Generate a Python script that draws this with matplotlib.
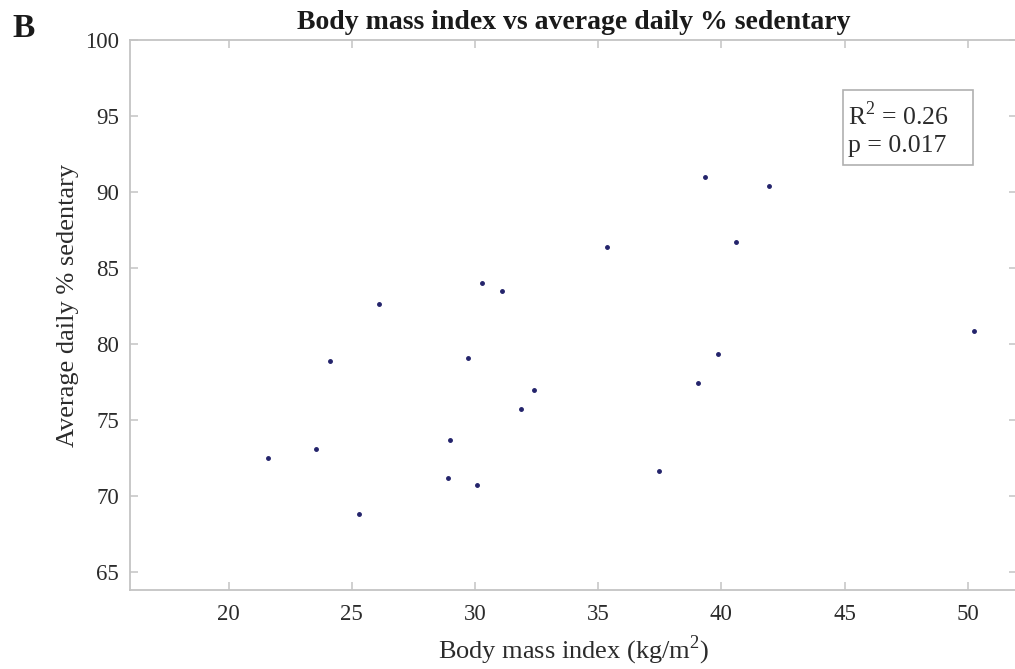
import matplotlib
matplotlib.use("Agg")
import matplotlib.pyplot as plt
from matplotlib.patches import Rectangle

# BMI (kg/m^2) and average daily % of time sedentary, one point per subject
bmi = [21.6, 23.55, 24.1, 25.3, 26.1, 28.9, 29.0, 29.7, 30.1, 30.3, 31.1,
       31.85, 32.4, 35.35, 37.45, 39.05, 39.35, 39.85, 40.6, 41.95, 50.25]
sedentary = [72.5, 73.1, 78.9, 68.8, 82.6, 71.2, 73.7, 79.1, 70.7, 84.0, 83.5,
             75.7, 76.95, 86.4, 71.6, 77.4, 91.0, 79.35, 86.7, 90.4, 80.85]

x_ticks = [20, 25, 30, 35, 40, 45, 50]
y_ticks = [65, 70, 75, 80, 85, 90, 95, 100]
r_squared = 0.26
p_value = 0.017

plt.rcParams['font.family'] = ['Liberation Serif', 'DejaVu Serif']
plt.rcParams['mathtext.fontset'] = 'custom'
plt.rcParams['mathtext.rm'] = 'Liberation Serif'

fig = plt.figure(figsize=(10.15, 6.69), dpi=100)
ax = fig.add_axes([0.1281, 0.1181, 0.8739, 0.8221])

ax.plot(bmi, sedentary, '.', color='#23236b', ms=5)

ax.set_xlim(16, 52)
ax.set_ylim(63.8, 100)
ax.set_xticks(x_ticks)
ax.set_yticks(y_ticks)

grey = '#c4c4c4'
for s in ax.spines.values():
    s.set_color(grey)
    s.set_linewidth(1.3)
ax.tick_params(direction='in', length=6, width=1.1, color=grey,
               top=True, right=True, labelsize=16.5, labelcolor='#2b2b2b')
ax.tick_params(axis='x', pad=10)
ax.tick_params(axis='y', pad=8)

ax.set_xlabel('Body mass index (kg/m$^2$)', fontsize=19, color='#2b2b2b', labelpad=6)
ax.set_ylabel('Average daily % sedentary', fontsize=19, color='#2b2b2b', va='center')
ax.yaxis.set_label_coords(-0.0699, 0.518)
ax.set_title('Body mass index vs average daily % sedentary', fontsize=20,
             fontweight='bold', color='#1a1a1a', pad=8)

# stats box
ax.add_patch(Rectangle((0.8038, 0.7727), 0.1466, 0.1364, transform=ax.transAxes,
                       fc='white', ec='#b0b0b0', lw=1.2, zorder=3))
ax.text(0.8095, 0.8455, 'R$^2$ = %.2f' % r_squared, transform=ax.transAxes,
        fontsize=18.5, color='#2b2b2b', va='baseline', ha='left', zorder=4)
ax.text(0.8095, 0.7964, 'p = %.3f' % p_value, transform=ax.transAxes,
        fontsize=18.5, color='#2b2b2b', va='baseline', ha='left', zorder=4)

fig.text(23.5 / 1015, 1 - 28.5 / 669, 'B', fontsize=24, fontweight='bold',
         color='#1a1a1a', ha='center', va='center')

fig.savefig('out.png', dpi=100)
